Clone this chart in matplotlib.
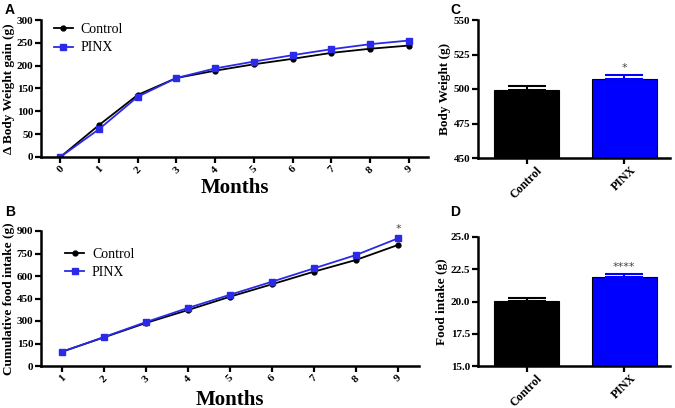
import matplotlib
matplotlib.use("Agg")
import matplotlib.pyplot as plt
import numpy as np

# ---- data ----
months_a = [0, 1, 2, 3, 4, 5, 6, 7, 8, 9]
bw_control = [0, 70, 136, 173, 189, 203, 215, 228, 237, 244]
bw_pinx = [0, 61, 132, 173, 194, 209, 223, 236, 247, 255]

months_b = [1, 2, 3, 4, 5, 6, 7, 8, 9]
food_control = [95, 191, 287, 373, 462, 545, 629, 707, 807]
food_pinx = [95, 193, 293, 387, 475, 562, 651, 740, 851]

groups = ["Control", "PINX"]
body_weight = [499.3, 507.5]
body_weight_err = [2.7, 2.5]
food_intake = [20.05, 21.87]
food_intake_err = [0.25, 0.28]

W, H = 675, 408
SERIF = "Liberation Serif"
SANS = "Liberation Sans"
BLUE = "#0000ff"
LBLUE = "#2a2ae8"
bar_colors = ["black", BLUE]

fig = plt.figure(figsize=(W / 100, H / 100), dpi=100)


def ax_px(left, right, top, bottom):
    return fig.add_axes([left / W, 1 - bottom / H, (right - left) / W, (bottom - top) / H])


def style(ax):
    for s in ["top", "right"]:
        ax.spines[s].set_visible(False)
    for s in ["left", "bottom"]:
        ax.spines[s].set_linewidth(1.8)
    ax.tick_params(width=1.6, length=4, direction="out", pad=1.5)
    for lab in ax.get_yticklabels() + ax.get_xticklabels():
        lab.set_fontfamily(SERIF)
        lab.set_fontweight("bold")
        lab.set_fontsize(8)


# ---- Panel A ----
axA = ax_px(41, 428, 20, 157)
axA.plot(months_a, bw_control, color="black", marker="o", ms=3.5, lw=1.3, label="Control")
axA.plot(months_a, bw_pinx, color=LBLUE, marker="s", ms=4, lw=1.3, label="PINX")
axA.set_xlim(-0.5, 9.5)
axA.set_ylim(0, 300)
axA.set_yticks([0, 50, 100, 150, 200, 250, 300])
axA.set_xticks(months_a)
style(axA)
for lab in axA.get_xticklabels():
    lab.set_rotation(45)
axA.set_xlabel("Months", fontfamily=SERIF, fontweight="bold", fontsize=15, labelpad=2)
axA.set_ylabel("Δ Body Weight gain (g)", fontfamily=SERIF, fontweight="bold", fontsize=9.5, labelpad=1)
axA.legend(loc="upper left", bbox_to_anchor=(0.0, 1.07), frameon=False,
           prop={"family": SERIF, "size": 10}, handlelength=1.4, handletextpad=0.55,
           labelspacing=0.4)
fig.text(5 / W, 1 - 10 / H, "A", fontfamily=SANS, fontweight="bold", fontsize=10, va="center")

# ---- Panel B ----
axB = ax_px(41, 419, 231, 366)
axB.plot(months_b, food_control, color="black", marker="o", ms=3.5, lw=1.3, label="Control")
axB.plot(months_b, food_pinx, color=LBLUE, marker="s", ms=4, lw=1.3, label="PINX")
axB.set_xlim(0.5, 9.5)
axB.set_ylim(0, 900)
axB.set_yticks([0, 150, 300, 450, 600, 750, 900])
axB.set_xticks(months_b)
style(axB)
for lab in axB.get_xticklabels():
    lab.set_rotation(45)
axB.text(months_b[-1], food_pinx[-1] + 30, "*", ha="center", va="bottom",
         fontsize=8, color="#444444")
axB.set_xlabel("Months", fontfamily=SERIF, fontweight="bold", fontsize=15, labelpad=4)
axB.set_ylabel("Cumulative food intake (g)", fontfamily=SERIF, fontweight="bold", fontsize=9.5, labelpad=1)
axB.legend(loc="upper left", bbox_to_anchor=(0.03, 0.97), frameon=False,
           prop={"family": SERIF, "size": 10}, handlelength=1.4, handletextpad=0.55,
           labelspacing=0.4)
fig.text(5 / W, 1 - 212 / H, "B", fontfamily=SANS, fontweight="bold", fontsize=10, va="center")


def bar_panel(ax, vals, errs):
    xpos = np.arange(len(groups))
    ax.bar(xpos, vals, width=0.67, color=bar_colors, edgecolor="black", linewidth=0.8, zorder=2)
    for i in range(len(groups)):
        ax.errorbar([xpos[i]], [vals[i]], yerr=[[0], [errs[i]]], fmt="none",
                    ecolor=bar_colors[i], elinewidth=1.5, capsize=14, capthick=1.5, zorder=3)
    ax.set_xlim(-0.5, 1.47)
    ax.set_xticks(xpos)
    ax.set_xticklabels(groups)


def bar_labels(ax):
    for lab in ax.get_xticklabels():
        lab.set_rotation(45)
        lab.set_ha("center")
        lab.set_va("top")
        lab.set_fontsize(8.6)
    ax.tick_params(axis="x", pad=0.5)


# ---- Panel C ----
axC = ax_px(478, 670, 20, 158)
bar_panel(axC, body_weight, body_weight_err)
axC.set_ylim(450, 550)
axC.set_yticks([450, 475, 500, 525, 550])
style(axC)
bar_labels(axC)
axC.text(1, body_weight[1] + body_weight_err[1] + 1.5, "*", ha="center", va="bottom",
         fontsize=8, color="#444444")
axC.set_ylabel("Body Weight (g)", fontfamily=SERIF, fontweight="bold", fontsize=9.5, labelpad=2)
fig.text(450 / W, 1 - 10 / H, "C", fontfamily=SANS, fontweight="bold", fontsize=10, va="center")

# ---- Panel D ----
axD = ax_px(478, 670, 237, 366)
bar_panel(axD, food_intake, food_intake_err)
axD.set_ylim(15, 25)
axD.set_yticks([15.0, 17.5, 20.0, 22.5, 25.0])
axD.set_yticklabels(["15.0", "17.5", "20.0", "22.5", "25.0"])
style(axD)
bar_labels(axD)
axD.text(1, food_intake[1] + food_intake_err[1] + 0.12, "****", ha="center", va="bottom",
         fontsize=8, color="#444444")
axD.set_ylabel("Food intake (g)", fontfamily=SERIF, fontweight="bold", fontsize=9.5, labelpad=2)
fig.text(450 / W, 1 - 212 / H, "D", fontfamily=SANS, fontweight="bold", fontsize=10, va="center")

fig.savefig("out.png", dpi=100)
